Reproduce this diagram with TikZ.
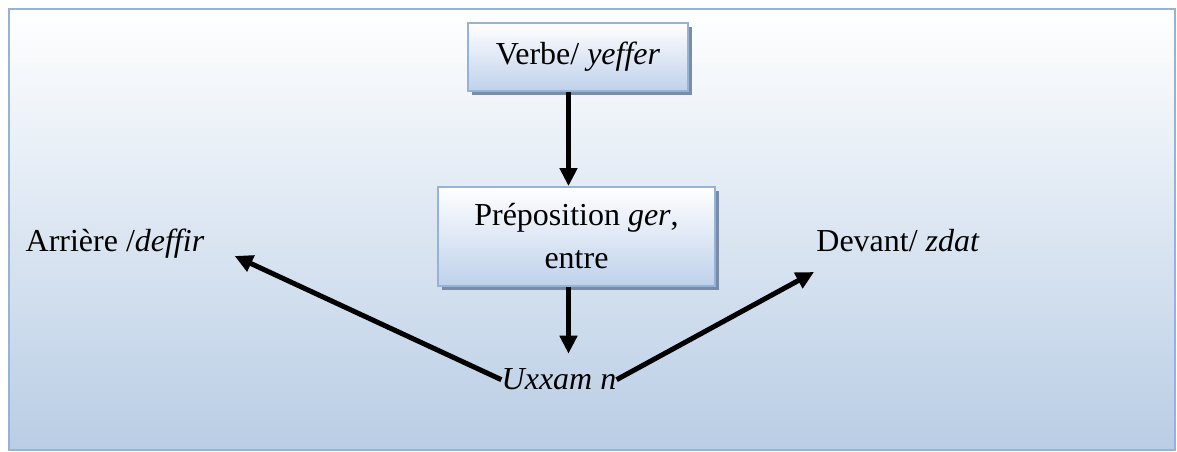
\documentclass[tikz,border=0pt]{standalone}
\usepackage{fontspec}
\setmainfont{Liberation Serif}
\usetikzlibrary{arrows.meta,shadows}

\definecolor{frameblue}{RGB}{149,179,215}
\definecolor{bgblue}{RGB}{185,205,229}
\definecolor{boxblue}{RGB}{190,209,235}
\definecolor{shadowblue}{RGB}{110,130,160}

\tikzset{
	wordbox/.style={draw=frameblue, line width=1pt, shade, top color=white, bottom color=boxblue,
		drop shadow={shadow xshift=0.08cm, shadow yshift=-0.08cm, fill=shadowblue, opacity=0.9},
		font=\fontsize{18.2}{24.5}\selectfont, align=center},
	word/.style={inner sep=0pt, font=\fontsize{18.2}{24.5}\selectfont},
	arr/.style={line width=0.1cm, -{Triangle[width=0.34cm,length=0.36cm]}}
}

\begin{document}
\begin{tikzpicture}
	
	% Parameters
	\def\W{23.54}
	\def\H{9.04}
	
	\useasboundingbox (0,0) rectangle (\W,\H);
	
	% Background
	\shade[top color=white, bottom color=bgblue] (0.18,0.04) rectangle (23.50,8.86);
	\draw[frameblue, line width=0.05cm] (0.18,0.04) rectangle (23.50,8.86);
	
	% Boxes
	\node[wordbox, minimum width=4.4cm, minimum height=1.36cm] (verbe) at (11.56,7.90) {Verbe/ \textit{yeffer}};
	\node[wordbox, minimum width=5.54cm, minimum height=1.98cm] (prep) at (11.53,4.31) {Préposition \textit{ger},\\ entre};
	
	% Words
	\node[word, anchor=base] (uxxam) at (11.18,1.24) {\textit{Uxxam n}};
	\node[word, anchor=base] (arriere) at (2.30,4.0) {Arrière /\textit{deffir}};
	\node[word, anchor=base] (devant) at (17.96,4.0) {Devant/ \textit{zdat}};
	
	% Arrows
	\coordinate (ax) at (11.37,0);
	\draw[arr] (verbe.south -| ax) -- (prep.north -| ax);
	\draw[arr, shorten >=0.3cm] (prep.south -| ax) -- (uxxam.north -| ax);
	\draw[arr] (uxxam.west) -- ([xshift=0.6cm,yshift=-0.08cm]arriere.base east);
	\draw[arr] (uxxam.east) -- ([xshift=-0.04cm,yshift=-0.4cm]devant.base west);
	
\end{tikzpicture}
\end{document}
